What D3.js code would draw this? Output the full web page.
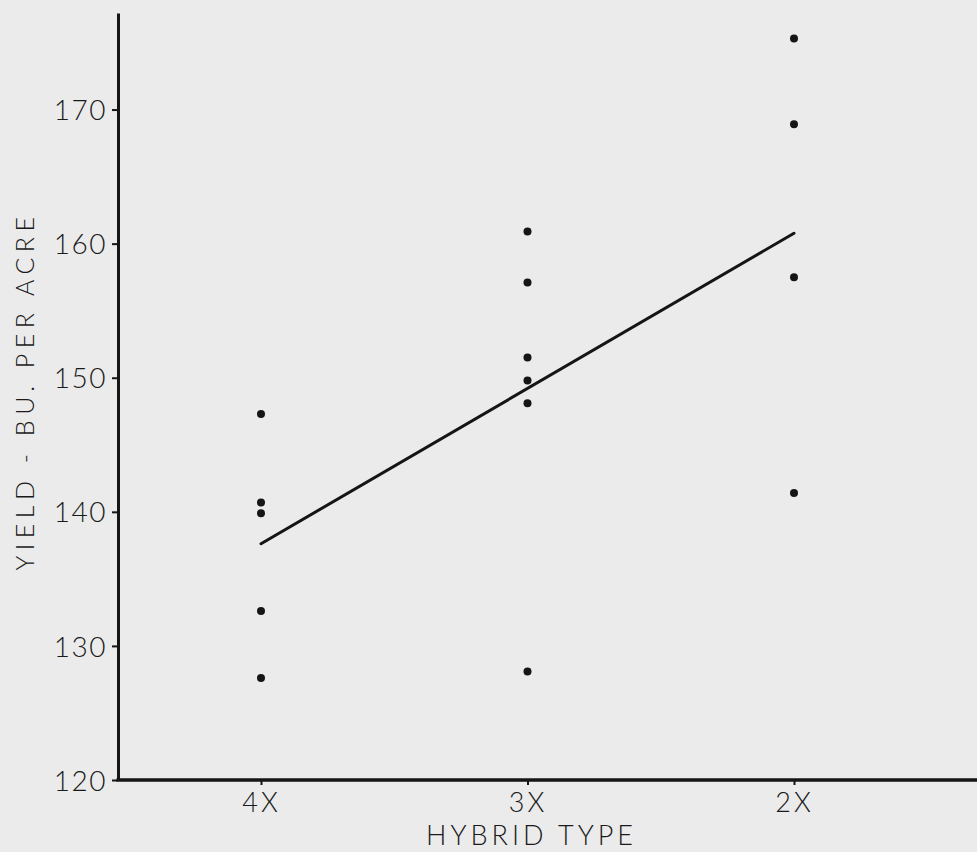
<!DOCTYPE html>
<html>
<head>
<meta charset="utf-8">
<script src="https://d3js.org/d3.v7.min.js"></script>
<style>
    body { margin: 0; background: #ebebeb; }
    svg { display: block; background: #ebebeb; }
    .tick text, .label { font-family: Lato, "Open Sans", sans-serif; font-weight: 300; fill: #1a1a1a; }
    .axis path, .axis line { stroke: #151515; }
</style>
</head>
<body>
<script>
// hybrid types along the x axis and observed yields (bu. per acre)
var hybrids = ["4X", "3X", "2X"];
var yield4X = [147.3, 140.7, 139.9, 132.6, 127.6];
var yield3X = [160.9, 157.1, 151.5, 149.8, 148.1, 128.1];
var yield2X = [175.3, 168.9, 157.5, 141.4];
var yTicks = [120, 130, 140, 150, 160, 170];

var width = 977, height = 852;
var origin = {x: 118, y: 780};

var svg = d3.select("body").append("svg")
    .attr("width", width)
    .attr("height", height);

var x = d3.scalePoint().domain(hybrids).range([261, 794]);
var y = d3.scaleLinear().domain([120, 177.2]).range([origin.y, 13]);

var groups = [yield4X, yield3X, yield2X];
var points = [];
groups.forEach(function (vals, i) {
    vals.forEach(function (v) { points.push({h: hybrids[i], v: v}); });
});

// y axis
var yAxis = svg.append("g")
    .attr("class", "axis")
    .attr("transform", "translate(" + origin.x + ",0)")
    .call(d3.axisLeft(y).tickValues(yTicks).tickSize(6).tickPadding(5).tickSizeOuter(0));
yAxis.select(".domain").attr("stroke-width", 3);
yAxis.selectAll(".tick line").attr("stroke-width", 2);
yAxis.selectAll(".tick text")
    .attr("font-size", 28)
    .attr("letter-spacing", 1.5)
    .attr("dy", "0.36em");

// x axis runs to the right edge
var xAxis = svg.append("g")
    .attr("class", "axis")
    .attr("transform", "translate(0," + origin.y + ")")
    .call(d3.axisBottom(x).tickSize(5).tickPadding(8).tickSizeOuter(0));
xAxis.select(".domain")
    .attr("d", "M" + (origin.x - 1.5) + ",0H" + width)
    .attr("stroke-width", 3.5);
xAxis.selectAll(".tick line").attr("stroke-width", 2);
xAxis.selectAll(".tick text")
    .attr("font-size", 27)
    .attr("letter-spacing", 3);

// axis titles
svg.append("text")
    .attr("class", "label")
    .attr("transform", "translate(34,391) rotate(-90)")
    .attr("text-anchor", "middle")
    .attr("font-size", 25)
    .attr("letter-spacing", 5.5)
    .text("YIELD - BU. PER ACRE");

svg.append("text")
    .attr("class", "label")
    .attr("x", x("3X") + 4)
    .attr("y", 845)
    .attr("text-anchor", "middle")
    .attr("font-size", 27)
    .attr("letter-spacing", 4)
    .text("HYBRID TYPE");

// line joining the 4X and 2X means
var ends = [
    {h: "4X", v: d3.mean(yield4X)},
    {h: "2X", v: d3.mean(yield2X)}
];
svg.append("path")
    .datum(ends)
    .attr("fill", "none")
    .attr("stroke", "#151515")
    .attr("stroke-width", 3)
    .attr("stroke-linecap", "round")
    .attr("d", d3.line().x(function (d) { return x(d.h); }).y(function (d) { return y(d.v); }));

// observations
svg.selectAll(".dot")
    .data(points)
    .enter()
    .append("circle")
    .attr("class", "dot")
    .attr("cx", function (d) { return x(d.h); })
    .attr("cy", function (d) { return y(d.v); })
    .attr("r", 4)
    .attr("fill", "#151515");
</script>
</body>
</html>
